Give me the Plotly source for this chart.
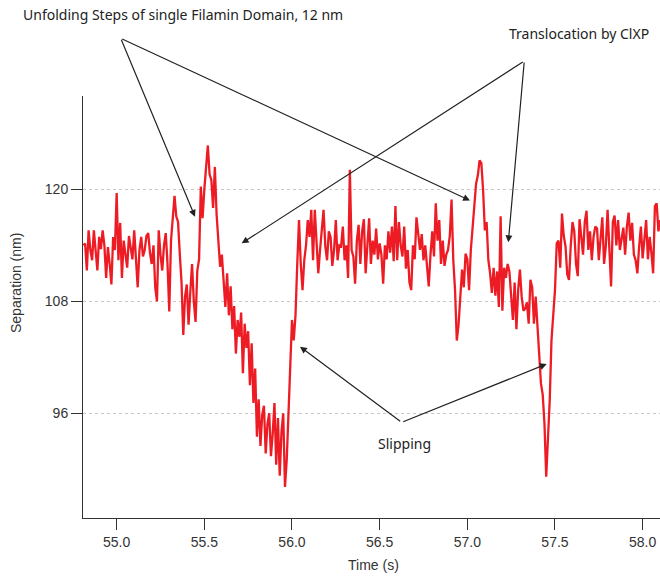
import numpy as np
import plotly.graph_objects as go

# ---- data (sampled every 10 ms starting at 54.81 s) ----
t_start = 54.81
t_step = 0.01
separation_nm = [
    114.0, 114.2, 111.3, 115.6, 113.5, 112.4, 115.6, 113.0, 111.3, 114.9,
    113.6, 115.6, 114.0, 110.5, 113.8, 112.0, 109.8, 114.9, 113.5, 119.6,
    112.4, 116.4, 110.5, 114.5, 113.0, 111.6, 115.0, 113.8, 112.5, 115.6,
    113.0, 109.5, 113.5, 114.9, 112.8, 113.5, 115.0, 115.3, 113.2, 112.0,
    114.0, 109.5, 108.0, 115.6, 113.0, 111.3, 114.0, 115.3, 112.0, 106.9,
    114.5, 116.7, 119.3, 117.1, 116.5, 113.1, 110.0, 104.4, 108.5, 109.8,
    105.5, 109.0, 112.0, 108.0, 105.8, 111.3, 112.5, 120.3, 116.9, 120.0,
    122.0, 124.7, 121.6, 121.0, 118.0, 122.4, 117.3, 113.9, 111.7, 113.0,
    110.5, 107.4, 111.0, 106.5, 109.6, 105.0, 107.5, 102.4, 106.0, 104.2,
    106.8, 100.3, 105.6, 103.0, 104.8, 99.0, 103.5, 97.1, 100.8, 93.5,
    97.5, 92.5, 95.8, 96.8, 91.7, 94.8, 96.0, 91.4, 93.8, 97.1,
    90.5, 95.5, 89.3, 94.0, 96.0, 88.1, 91.0, 96.0, 102.4, 106.0,
    103.8, 106.5, 112.0, 116.7, 112.0, 109.2, 112.4, 114.0, 116.7, 114.9,
    117.8, 112.4, 117.8, 114.9, 111.0, 113.5, 115.5, 117.8, 113.9, 112.4,
    115.5, 114.9, 111.8, 113.5, 116.7, 112.4, 114.0, 113.9, 116.0, 112.4,
    114.0, 110.5, 122.1, 113.5, 112.8, 109.9, 114.5, 116.2, 112.0, 115.5,
    116.8, 111.0, 114.0, 116.9, 112.0, 114.5, 113.0, 115.8, 112.5, 114.2,
    113.0, 109.9, 114.0, 112.5, 115.5, 113.2, 116.0, 112.3, 118.2, 112.4,
    116.5, 114.0, 112.8, 116.0, 111.5, 113.5, 110.0, 109.2, 114.0, 112.5,
    117.0, 115.0, 113.5, 115.2, 112.4, 114.0, 111.2, 109.6, 113.0, 115.5,
    112.8, 118.5, 114.5, 116.7, 112.0, 114.5, 111.8, 113.0, 113.5, 115.0,
    118.9, 112.4, 109.2, 103.8, 105.5, 109.2, 111.4, 109.5, 113.1, 112.5,
    109.2, 113.5, 116.0, 118.1, 120.6, 121.5, 123.1, 122.8, 119.9, 115.6,
    116.5, 112.4, 111.0, 108.9, 111.6, 108.6, 111.2, 107.4, 117.1, 107.0,
    111.6, 110.5, 112.0, 111.2, 108.4, 106.0, 110.0, 105.0, 109.2, 111.4,
    108.5, 107.0, 107.2, 107.9, 105.6, 110.3, 109.5, 105.6, 108.5, 105.2,
    102.4, 99.2, 98.0, 94.9, 89.2, 93.5, 97.4, 103.8, 106.6, 109.2,
    114.2, 114.5, 111.6, 117.4, 115.0, 113.9, 110.9, 110.3, 114.0, 116.5,
    115.5, 112.0, 110.7, 116.8, 114.9, 113.0, 116.5, 117.7, 113.5, 115.5,
    112.4, 114.9, 116.0, 115.8, 112.4, 114.5, 117.0, 112.0, 113.9, 117.8,
    113.0, 109.6, 116.5, 117.2, 114.0, 116.7, 113.5, 114.9, 115.9, 113.0,
    116.0, 117.5, 114.5, 116.4, 113.0, 112.4, 111.0, 113.9, 116.0, 112.6,
    114.5, 116.7, 112.5, 114.9, 113.2, 111.0, 118.2, 118.5, 115.5, 116.7,
]
time_s = np.round(t_start + t_step * np.arange(len(separation_nm)), 2)

y_ticks = [96, 108, 120]
x_ticks = [55.0, 55.5, 56.0, 56.5, 57.0, 57.5, 58.0]
x_tick_labels = ["55.0", "55.5", "56.0", "56.5", "57.0", "57.5", "58.0"]

label_unfold = "Unfolding Steps of single Filamin Domain, 12 nm"
label_transloc = "Translocation by ClXP"
label_slip = "Slipping"

# ---- layout geometry (page pixels; body margin removed below) ----
W, H = 660, 576
PLOT_L, PLOT_R, PLOT_T, PLOT_B = 83, 660, 96, 518   # pixel box of the plot
ML, MT = PLOT_L, PLOT_T
MR, MB = W - PLOT_R, H - PLOT_B
PW, PH = PLOT_R - PLOT_L, PLOT_B - PLOT_T


def px(x):
    return (x - PLOT_L) / PW


def py(y):
    return (PLOT_B - y) / PH


fig = go.Figure()
fig.add_trace(go.Scatter(
    x=time_s, y=separation_nm, mode="lines",
    line=dict(color="#ED1C24", width=2.3),
    hoverinfo="skip", showlegend=False,
))

axis_font = dict(family="Liberation Sans, Arial, sans-serif", size=14, color="#333333")
note_font = dict(family="Noto Sans, sans-serif", size=14, color="#222222")

annotations = []
# arrows: (tip_x, tip_y, tail_x, tail_y) in pixels
arrows = [
    (195, 216.7, 120.7, 38.3),
    (470, 200.5, 120.7, 38.3),
    (241.7, 243.3, 524.3, 61),
    (508.3, 242.2, 524.3, 61),
    (300, 346.7, 401.7, 422.3),
    (546.7, 364.0, 401.7, 422.3),
]
for tx, ty, sx, sy in arrows:
    annotations.append(dict(
        x=px(tx), y=py(ty), xref="paper", yref="paper",
        ax=sx - tx, ay=sy - ty, axref="pixel", ayref="pixel",
        text="", showarrow=True, arrowhead=2, arrowsize=1.15,
        arrowwidth=1.2, arrowcolor="#222222", standoff=0,
    ))

annotations += [
    dict(x=px(20.7), y=py(15), xref="paper", yref="paper", text=label_unfold,
         showarrow=False, xanchor="left", yanchor="middle", font=note_font),
    dict(x=px(506.7), y=py(33.3), xref="paper", yref="paper", text=label_transloc,
         showarrow=False, xanchor="left", yanchor="middle", font=note_font),
    dict(x=px(375.7), y=py(443.3), xref="paper", yref="paper", text=label_slip,
         showarrow=False, xanchor="left", yanchor="middle", font=note_font),
    dict(x=px(16), y=py(283), xref="paper", yref="paper", text="Separation (nm)",
         textangle=-90, showarrow=False, xanchor="center", yanchor="middle", font=axis_font),
    dict(x=px(373), y=py(565), xref="paper", yref="paper", text="Time (s)",
         showarrow=False, xanchor="center", yanchor="middle", font=axis_font),
]

fig.update_layout(
    width=W, height=H,
    margin=dict(l=ML, r=MR, t=MT, b=MB, pad=0),
    paper_bgcolor="white", plot_bgcolor="white",
    font=axis_font,
    annotations=annotations,
    xaxis=dict(
        range=[54.808, 58.099], tickvals=x_ticks, ticktext=x_tick_labels,
        showgrid=False, zeroline=False,
        showline=True, linecolor="#333333", linewidth=1,
        ticks="outside", ticklen=11, tickwidth=1, tickcolor="#333333",
        tickfont=axis_font,
    ),
    yaxis=dict(
        range=[84.78, 130.0], tickvals=y_ticks,
        showgrid=True, gridcolor="#c8c8c8", griddash="dot", gridwidth=1,
        zeroline=False,
        showline=True, linecolor="#333333", linewidth=1,
        ticks="outside", ticklen=11, tickwidth=1, tickcolor="#333333",
        tickfont=axis_font,
    ),
)

fig.write_html(
    "out.html",
    config={"displayModeBar": False, "staticPlot": True},
    post_script="document.body.style.margin='0px';document.body.style.overflow='hidden';",
)
